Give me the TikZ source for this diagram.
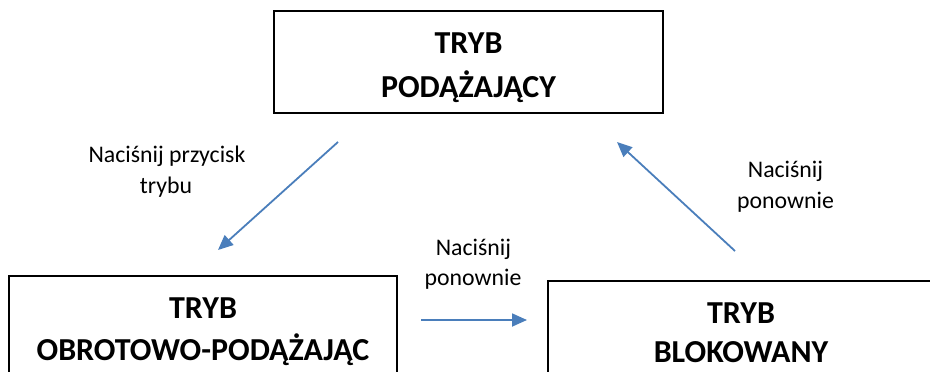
\documentclass[tikz,border=0pt]{standalone}
\usepackage{fontspec}
\setmainfont{Carlito}
\usetikzlibrary{arrows.meta}
\definecolor{arrowblue}{HTML}{4A7EBB}
\tikzset{
  modebox/.style={draw=black, line width=1.2pt, inner sep=0pt},
  boxtxt/.style={inner sep=0pt, anchor=base, font=\bfseries\fontsize{32}{38}\selectfont},
  lbl/.style={inner sep=0pt, anchor=base, font=\fontsize{23.8}{29}\selectfont},
  conn/.style={draw=arrowblue, line width=1.8pt,
    -{Triangle[length=15pt,width=13pt]}}
}
\begin{document}
\begin{tikzpicture}[x=1pt,y=-1pt]
\useasboundingbox (0,0) rectangle (930,372);
\clip (0,0) rectangle (930,372);
% boxes
\node[modebox, minimum width=389pt, minimum height=102pt] (follow) at (468.5,62) {};
\node[modebox, minimum width=388pt, minimum height=120pt] (rotfollow) at (203,336) {};
\node[modebox, minimum width=386pt, minimum height=120pt] (locked) at (741,341) {};
% box texts
\node[boxtxt] (t1a) at (468.5,53) {TRYB};
\node[boxtxt] (t1b) at (468.5,97) {PODĄŻAJĄCY};
\node[boxtxt] (t2a) at (203,318) {TRYB};
\node[boxtxt] (t2b) at (203,360) {OBROTOWO-PODĄŻAJĄC};
\node[boxtxt] (t3a) at (741,323) {TRYB};
\node[boxtxt] (t3b) at (741,362) {BLOKOWANY};
% labels
\node[lbl] (l1a) at (167,162) {Naciśnij przycisk};
\node[lbl] (l1b) at (166,193) {trybu};
\node[lbl] (l2a) at (473.5,255) {Naciśnij};
\node[lbl] (l2b) at (473,285) {ponownie};
\node[lbl] (l3a) at (785.5,177) {Naciśnij};
\node[lbl] (l3b) at (785.5,208) {ponownie};
% connectors
\coordinate (a1s) at (338,142);
\coordinate (a1e) at (218,250);
\coordinate (a2s) at (735,251);
\coordinate (a2e) at (617,142);
\coordinate (a3s) at (421,320);
\coordinate (a3e) at (527,320);
\draw[conn] (a1s) -- (a1e);
\draw[conn] (a2s) -- (a2e);
\draw[conn] (a3s) -- (a3e);
\end{tikzpicture}
\end{document}
